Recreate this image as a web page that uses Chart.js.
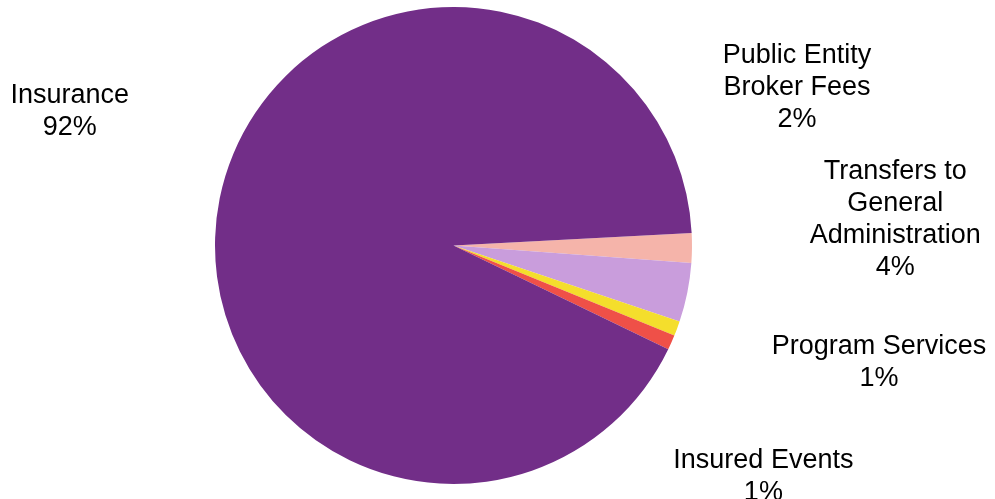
<!doctype html>
<html>

<head>
	<title>Pie Chart</title>
	<script src="https://cdn.jsdelivr.net/npm/chart.js@4.4.1/dist/chart.umd.min.js"></script>
	<style>
		body { margin: 0; background: #fff; }
		#canvas-holder { width: 995px; height: 499px; }
	</style>
</head>

<body>
	<div id="canvas-holder">
		<canvas id="chart-area"></canvas>
	</div>
	<script>
		// slices in clockwise order, starting just above 3 o'clock
		var categories = ['Public Entity Broker Fees', 'Transfers to General Administration', 'Program Services', 'Insured Events', 'Insurance'];
		var shares = [2, 4, 1, 1, 92];
		var labelLines = [
			['Public Entity', 'Broker Fees'],
			['Transfers to', 'General', 'Administration'],
			['Program Services'],
			['Insured Events'],
			['Insurance']
		];
		var sliceColors = ['#f5b4aa', '#c99ddc', '#f4de2c', '#ef5048', '#722e88'];

		// where each label sits, relative to the rim point at the middle of its slice
		var labelOffsets = [[105, -185], [208, -114], [202, 25], [92, 125], [-150, -95]];

		var outsideLabels = {
			id: 'outsideLabels',
			afterDatasetsDraw: function(chart) {
				var ctx = chart.ctx;
				var meta = chart.getDatasetMeta(0);
				ctx.save();
				ctx.fillStyle = '#000';
				ctx.font = '27px "Liberation Sans", Arial, sans-serif';
				ctx.textAlign = 'center';
				ctx.textBaseline = 'alphabetic';
				meta.data.forEach(function(arc, i) {
					var mid = (arc.startAngle + arc.endAngle) / 2;
					var x = arc.x + Math.cos(mid) * arc.outerRadius + labelOffsets[i][0];
					var y = arc.y + Math.sin(mid) * arc.outerRadius + labelOffsets[i][1];
					var lines = labelLines[i].concat([shares[i] + '%']);
					lines.forEach(function(line, j) {
						ctx.fillText(line, x, y + j * 32);
					});
				});
				ctx.restore();
			}
		};

		var config = {
			type: 'pie',
			data: {
				labels: categories,
				datasets: [{
					data: shares,
					backgroundColor: sliceColors,
					borderWidth: 0
				}]
			},
			options: {
				responsive: true,
				maintainAspectRatio: false,
				animation: false,
				rotation: 87,
				layout: {
					padding: { left: 215, right: 303, top: 7, bottom: 15 }
				},
				plugins: {
					legend: { display: false },
					tooltip: { enabled: false }
				}
			},
			plugins: [outsideLabels]
		};

		window.onload = function() {
			var ctx = document.getElementById('chart-area').getContext('2d');
			window.myPie = new Chart(ctx, config);
		};
	</script>
</body>

</html>
